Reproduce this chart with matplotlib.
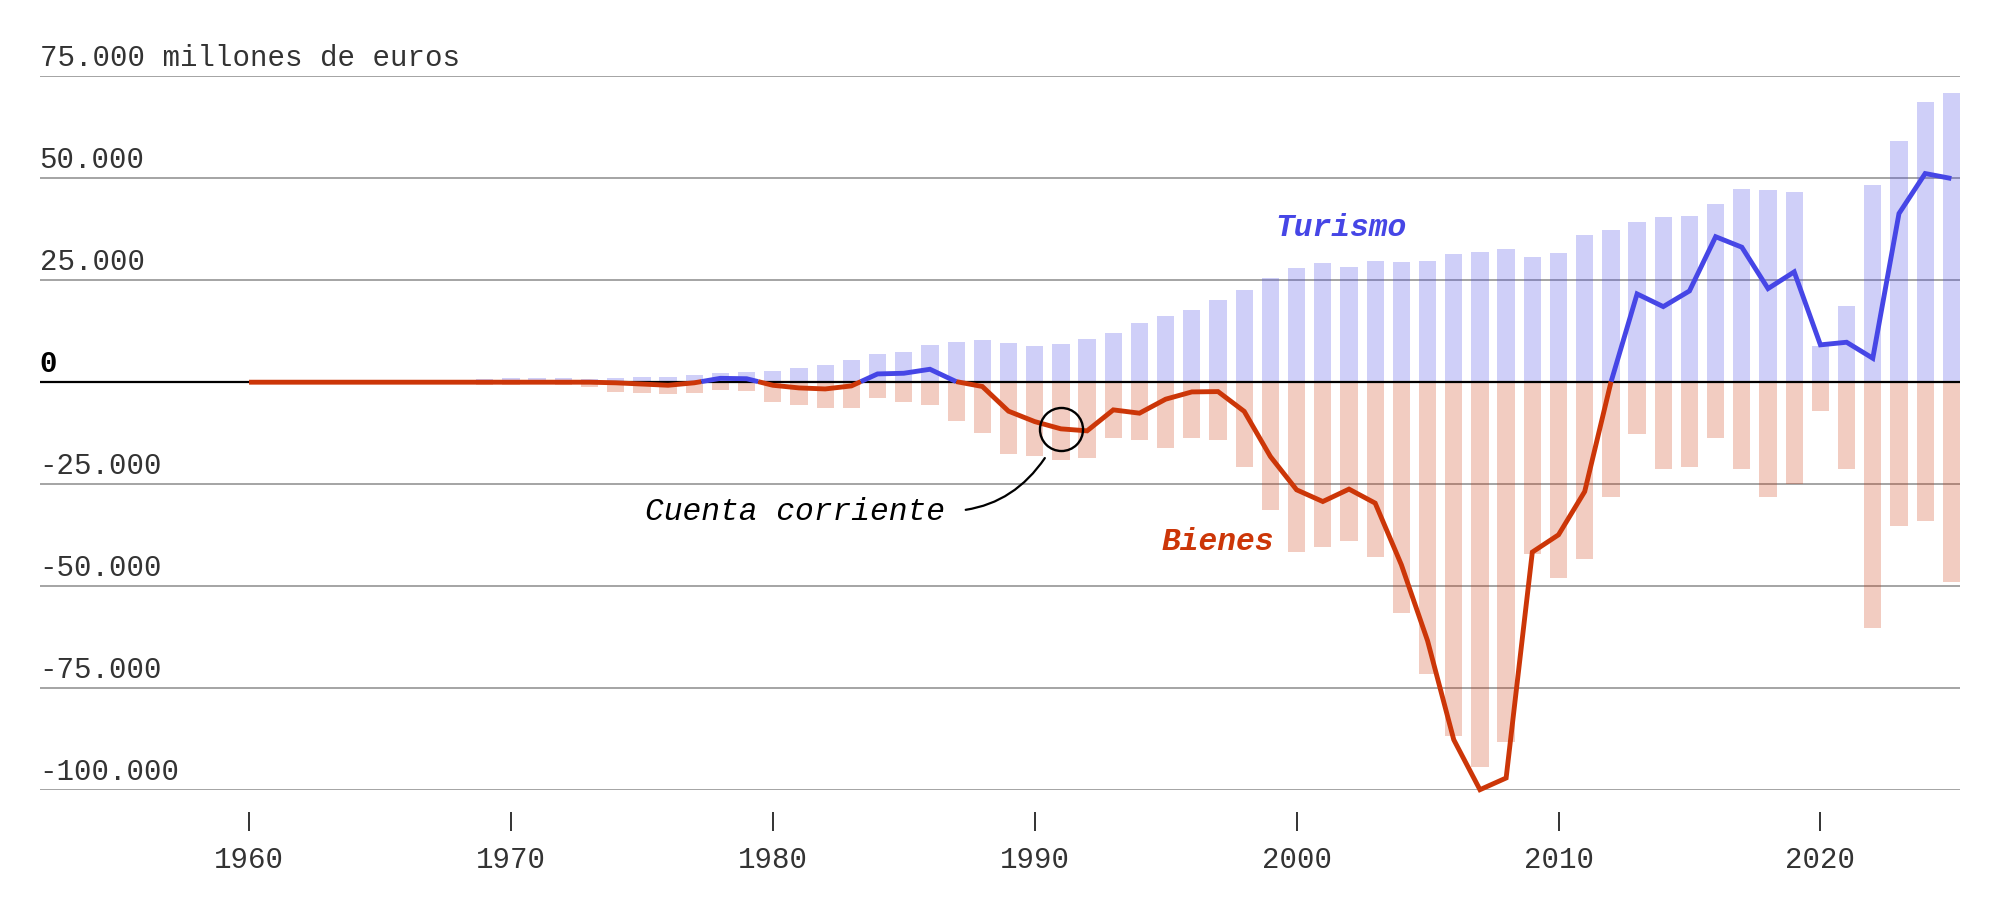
import matplotlib

matplotlib.use("Agg")
import matplotlib.pyplot as plt
import matplotlib.transforms as mtransforms
import numpy as np

plt.rcParams["font.family"] = ["Liberation Mono", "DejaVu Sans Mono"]

# Balanza por cuenta corriente de España, millones de euros
bar_years = list(range(1961, 2026))
turismo = [
    150, 200, 250, 300, 400, 450, 500, 500, 550, 800,
    980, 800, 750, 900, 1140, 1060, 1720, 2200, 2250, 2530,
    3350, 4170, 5230, 6780, 7270, 8900, 9640, 10130, 9480, 8820,
    9230, 10380, 11930, 14460, 16100, 17570, 20100, 22500, 25330, 27780,
    29000, 28100, 29660, 29410, 29660, 31210, 31780, 32430, 30470, 31540,
    35950, 37250, 39220, 40280, 40600, 43450, 47300, 46980, 46570, 8660,
    18630, 48290, 59070, 68460, 70750,
]
bienes = [
    -150, -250, -300, -350, -650, -650, -650, -650, -900, -820,
    -650, -900, -1390, -2530, -2700, -3020, -2860, -1960, -2330, -5070,
    -5720, -6540, -6540, -4090, -4900, -5720, -9720, -12660, -17810, -18220,
    -19120, -18710, -13810, -14380, -16260, -13890, -14380, -21040, -31370, -41670,
    -40520, -39130, -42890, -56750, -71660, -86940, -94530, -88310, -42160, -48220,
    -43380, -28190, -12830, -21490, -20830, -13890, -21320, -28350, -25080, -7110,
    -21400, -60490, -35270, -34040, -49200,
]

ca_years = list(range(1960, 2026))
cuenta_corriente = [
    -150, -150, -150, -150, -150, -150, -150, -150, -150, -150,
    -150, -150, -150, -150, -300, -600, -900, -300, 800, 700,
    -900, -1550, -1800, -1060, 1880, 2040, 3020, 0, -1200, -7250,
    -9800, -11580, -12070, -6930, -7740, -4310, -2530, -2450, -7300, -18370,
    -26520, -29390, -26350, -29780, -44890, -63500, -87750, -100000, -97130, -41780,
    -37540, -26940, -200, 21480, 18370, 22210, 35500, 32930, 22790, 26880,
    9000, 9640, 5720, 41180, 50980, 49760,
]

grid_values = [75000, 50000, 25000, -25000, -50000, -75000, -100000]
ytick_values = [75000, 50000, 25000, 0, -25000, -50000, -75000, -100000]
ytick_labels = ["75.000 millones de euros", "50.000", "25.000", "0",
                "-25.000", "-50.000", "-75.000", "-100.000"]
xtick_years = [1960, 1970, 1980, 1990, 2000, 2010, 2020]

BLUE = "#4646e6"
RED = "#cc3608"
GREY_TXT = "#333333"


def split_at_zero(x, y):
    # add the zero crossings so each colour ends exactly on the axis
    xs, ys = [x[0]], [y[0]]
    for i in range(1, len(x)):
        y0, y1 = y[i - 1], y[i]
        if y0 * y1 < 0:
            t = y0 / (y0 - y1)
            xs.append(x[i - 1] + t * (x[i] - x[i - 1]))
            ys.append(0)
        xs.append(x[i])
        ys.append(y1)
    return np.array(xs, dtype=float), np.array(ys, dtype=float)


fig = plt.figure(figsize=(20, 9.04), dpi=100)
ax = fig.add_axes([0.01975, 0.12533, 0.96025, 0.79004])
ax.set_xlim(1952.0, 2025.33)
ax.set_ylim(-100000, 75000)

for v in grid_values:
    ax.axhline(v, color="#8c8c8c", lw=1.1, zorder=0)

ax.bar(bar_years, turismo, width=0.66, color=BLUE, alpha=0.26, lw=0, zorder=1)
ax.bar(bar_years, bienes, width=0.66, color=RED, alpha=0.25, lw=0, zorder=1)
ax.axhline(0, color="black", lw=1.6, zorder=2)

xs, ys = split_at_zero(ca_years, cuenta_corriente)
ax.plot(xs, np.where(ys <= 0, ys, np.nan), color=RED, lw=3.5,
        solid_joinstyle="miter", solid_capstyle="butt", zorder=3, clip_on=False)
ax.plot(xs, np.where(ys >= 0, ys, np.nan), color=BLUE, lw=3.5,
        solid_joinstyle="miter", solid_capstyle="butt", zorder=3, clip_on=False)

# circle + label for the current account line
i91 = ca_years.index(1991)
ax.plot(1991, cuenta_corriente[i91], marker="o", ms=31, mfc="none",
        mec="black", mew=1.7, zorder=4)
ax.annotate(
    "Cuenta corriente",
    xy=(1991, cuenta_corriente[i91]),
    xytext=(-83.5, -59.4),
    textcoords="offset points",
    ha="right", va="center",
    fontsize=22.5, style="italic", color="black",
    arrowprops=dict(arrowstyle="-", color="black", lw=1.6,
                    connectionstyle="angle3,angleA=0,angleB=66",
                    relpos=(1, 0.5), shrinkA=13, shrinkB=24),
)

ax.text(2001.68, 37890, "Turismo", color=BLUE, fontsize=22.5,
        fontweight="bold", style="italic", ha="center", va="center")
ax.text(1997.0, -39010, "Bienes", color=RED, fontsize=22.5,
        fontweight="bold", style="italic", ha="center", va="center")

# y labels sit on top of the grid lines, left aligned
trans = mtransforms.blended_transform_factory(ax.transAxes, ax.transData)
trans = mtransforms.offset_copy(trans, fig=fig, x=0, y=11, units="dots")
for v, lab in zip(ytick_values, ytick_labels):
    if v == 0:
        ax.text(0, v, lab, transform=trans, ha="left", va="baseline",
                fontsize=21, fontweight="bold", color="black")
    else:
        ax.text(0, v, lab, transform=trans, ha="left", va="baseline",
                fontsize=21, color=GREY_TXT)

ax.set_yticks([])
ax.set_xticks(xtick_years)
ax.set_xticklabels([str(y) for y in xtick_years])
ax.tick_params(axis="x", length=13.7, width=1.4, color=GREY_TXT,
               direction="out", pad=10, labelsize=21, labelcolor=GREY_TXT)
for s in ["top", "right", "left"]:
    ax.spines[s].set_visible(False)
ax.spines["bottom"].set_position(("outward", 15.8))
ax.spines["bottom"].set_visible(False)

fig.savefig("out.png", dpi=100)
